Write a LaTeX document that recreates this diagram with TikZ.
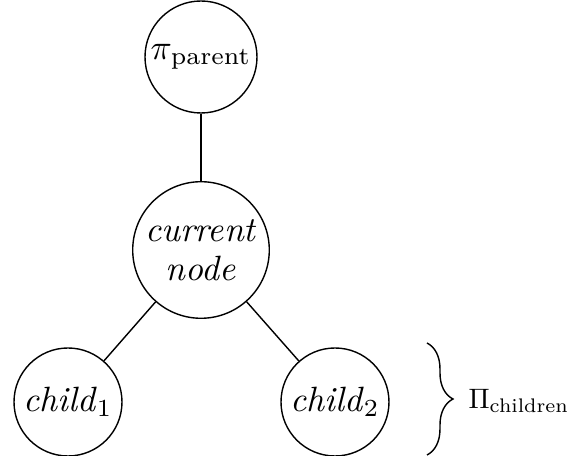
\documentclass[tikz,border=0pt]{standalone}
\usepackage{amsmath}
\usepackage{tikz}
\usetikzlibrary{decorations.pathreplacing}

\begin{document}
\begin{tikzpicture}[
    every node/.style={font=\normalsize},
    treenode/.style={circle, draw, inner sep=1pt, align=center}]

    % Fix the canvas to the reference size
    \useasboundingbox (0,0) rectangle (5.68,4.56);

    % Tree nodes
    \node[treenode, minimum size=1.12cm] (parent) at (2.01, 3.99) {$\pi_{\text{parent}}$};
    \node[treenode, minimum size=1.36cm] (current) at (2.01, 2.06) {\textit{current}\\[-1pt]\textit{node}};
    \node[treenode, minimum size=1.08cm] (childa) at (0.68, 0.54) {\textit{child}$_1$};
    \node[treenode, minimum size=1.08cm] (childb) at (3.35, 0.54) {\textit{child}$_2$};

    % Edges
    \draw (parent) -- (current);
    \draw (current) -- (childa);
    \draw (current) -- (childb);

    % Brace over the children
    \coordinate (bracetop) at (4.27, 1.13);
    \coordinate (bracebot) at (4.27, 0.01);
    \draw[decorate, decoration={brace, amplitude=0.26cm}] (bracetop) -- (bracebot);
    \node[anchor=west, inner sep=0pt, scale=0.8] (children) at (4.68, 0.55) {$\Pi_{\text{children}}$};

\end{tikzpicture}
\end{document}
